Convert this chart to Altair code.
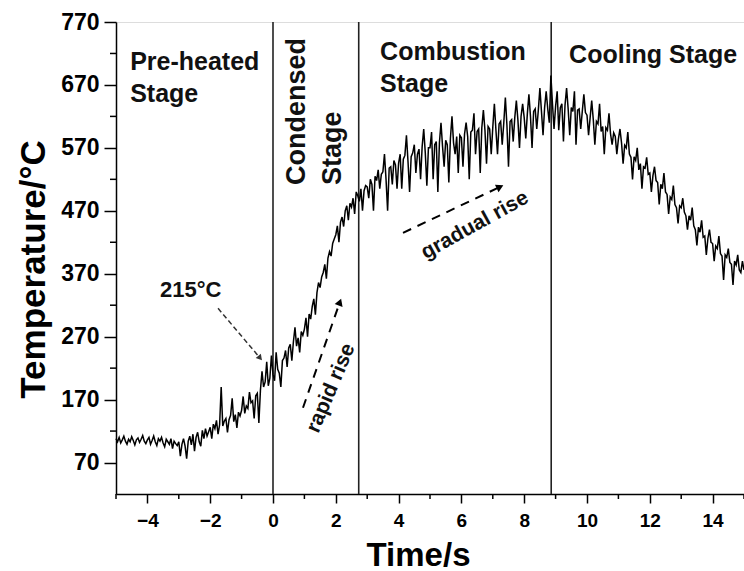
import altair as alt
import pandas as pd

FONT = "Liberation Sans"

# ---- temperature trace, 0.05 s sampling, one list per second (start time, values) ----
sec_starts = [-5, -4, -3, -2, -1, 0, 1, 2, 3, 4, 5, 6, 7, 8, 9, 10, 11, 12, 13, 14, 15]
sec_values = [
    [108, 103, 110, 101, 106, 112, 104, 99, 107, 103, 111, 105, 98, 106, 109, 102, 107, 113, 104, 100],
    [106, 110, 99, 105, 112, 103, 97, 108, 104, 110, 101, 95, 107, 103, 99, 108, 92, 104, 100, 97],
    [103, 80, 99, 108, 96, 76, 104, 112, 98, 115, 88, 110, 118, 103, 96, 121, 108, 124, 112, 119],
    [126, 108, 131, 124, 137, 115, 130, 190, 128, 136, 140, 118, 138, 145, 172, 135, 146, 125, 150, 144],
    [153, 175, 148, 160, 156, 182, 165, 168, 140, 176, 180, 133, 185, 215, 190, 198, 230, 192, 204, 240],
    [210, 200, 245, 218, 212, 190, 232, 236, 248, 222, 252, 258, 232, 262, 285, 255, 268, 245, 278, 272],
    [282, 300, 270, 306, 298, 318, 330, 305, 340, 356, 348, 365, 372, 385, 362, 395, 405, 398, 418, 425],
    [432, 446, 420, 452, 460, 445, 470, 478, 455, 482, 476, 490, 465, 500, 494, 485, 505, 470, 502, 510],
    [508, 490, 520, 512, 470, 525, 518, 535, 505, 528, 532, 560, 520, 470, 538, 540, 512, 550, 543, 505],
    [546, 560, 505, 552, 558, 590, 548, 500, 556, 562, 575, 530, 560, 568, 520, 572, 600, 562, 510, 570],
    [570, 595, 520, 575, 580, 500, 578, 610, 572, 540, 582, 575, 515, 585, 620, 578, 560, 588, 530, 590],
    [586, 540, 592, 610, 588, 520, 595, 598, 625, 560, 596, 600, 530, 602, 630, 598, 545, 604, 600, 560],
    [603, 640, 598, 560, 608, 612, 575, 610, 650, 606, 540, 612, 615, 580, 618, 645, 614, 570, 620, 640],
    [618, 585, 624, 655, 620, 570, 628, 632, 600, 630, 665, 628, 590, 634, 660, 632, 610, 685, 640, 600],
    [636, 660, 598, 634, 640, 580, 638, 665, 632, 590, 634, 628, 660, 575, 630, 632, 600, 628, 655, 626],
    [622, 590, 618, 645, 615, 575, 612, 608, 640, 596, 604, 560, 602, 598, 625, 592, 575, 594, 588, 560],
    [584, 600, 578, 545, 574, 570, 595, 560, 555, 520, 556, 550, 570, 535, 545, 505, 540, 538, 555, 528],
    [530, 500, 526, 540, 518, 515, 480, 512, 505, 530, 500, 496, 465, 492, 488, 510, 480, 475, 450, 478],
    [475, 490, 468, 462, 440, 462, 455, 475, 446, 440, 415, 444, 436, 455, 428, 430, 400, 426, 440, 420],
    [418, 390, 414, 410, 430, 402, 398, 360, 400, 396, 410, 388, 385, 352, 390, 384, 400, 376, 372, 390],
    [376],
]
t_step = 0.05

# stage boundaries (s)
boundaries = [0.0, 2.73, 8.86]

# stage labels
stage_text = ["Pre-heated", "Stage", "Combustion", "Stage", "Cooling Stage"]
stage_x = [-4.55, -4.55, 3.41, 3.41, 9.43]
stage_y = [694, 643, 710, 659, 705]

rot_text = ["Condensed", "Stage"]
rot_x = [1.02, 2.17]
rot_y = [511, 511]

# axes
x_major = [-4, -2, 0, 2, 4, 6, 8, 10, 12, 14]
x_minor = [-5, -3, -1, 1, 3, 5, 7, 9, 11, 13, 15]
y_major = [70, 170, 270, 370, 470, 570, 670, 770]
y_minor = [120, 220, 320, 420, 520, 620, 720]

W, H = 628, 472

times, temps = [], []
for s0, vals in zip(sec_starts, sec_values):
    for i, v in enumerate(vals):
        times.append(round(s0 + t_step * i, 3))
        temps.append(v)
df = pd.DataFrame({"t": times, "T": temps})

xs = alt.Scale(domain=[-5, 15], nice=False, zero=False)
ys = alt.Scale(domain=[20, 770], nice=False, zero=False)

xaxis = alt.Axis(
    values=x_major, format="d",
    labelOverlap=False, labelFlush=False, tickSize=9,
    labelFontSize=19, labelFont=FONT, labelFontWeight="bold", labelColor="black",
    labelPadding=8, tickColor="black", tickWidth=1.5, domainColor="black", domainWidth=1.5,
    grid=False, title="Time/s", titleFont=FONT, titleFontSize=33, titleFontWeight="bold",
    titleColor="black", titleX=302, titleY=71, titleBaseline="alphabetic", titleAlign="center",
)
yaxis = alt.Axis(
    values=y_major, format="d",
    labelOverlap=False, labelFlush=False, tickSize=12,
    labelFontSize=23, labelFont=FONT, labelFontWeight="bold", labelColor="black",
    labelPadding=5, tickColor="black", tickWidth=1.5, domainColor="black", domainWidth=1.5,
    grid=False, title="Temperature/°C", titleFont=FONT, titleFontSize=35, titleFontWeight="bold",
    titleColor="black", titleX=-72, titleY=247, titleAngle=270, titleBaseline="alphabetic",
    titleAlign="center",
)

line = alt.Chart(df).mark_line(color="black", strokeWidth=1.5).encode(
    x=alt.X("t:Q", scale=xs, axis=xaxis),
    y=alt.Y("T:Q", scale=ys, axis=yaxis),
)

# minor ticks, positioned by the scales just outside the axis lines
xminor = alt.Chart(pd.DataFrame({"m": x_minor})).mark_rule(color="black", strokeWidth=1.5).encode(
    x=alt.X("m:Q", scale=xs), y=alt.value(H), y2=alt.value(H + 5))
yminor = alt.Chart(pd.DataFrame({"m": y_minor})).mark_rule(color="black", strokeWidth=1.5).encode(
    y=alt.Y("m:Q", scale=ys), x=alt.value(0), x2=alt.value(-6))

rules = alt.Chart(pd.DataFrame({"b": boundaries})).mark_rule(
    color="#222", strokeWidth=1.6
).encode(x=alt.X("b:Q", scale=xs))

stage_df = pd.DataFrame({"txt": stage_text, "x": stage_x, "y": stage_y})
stages = alt.Chart(stage_df).mark_text(
    font=FONT, fontSize=25, fontWeight="bold", align="left", baseline="alphabetic", color="#111"
).encode(x=alt.X("x:Q", scale=xs), y=alt.Y("y:Q", scale=ys), text="txt:N")

rot_df = pd.DataFrame({"txt": rot_text, "x": rot_x, "y": rot_y})
rot = alt.Chart(rot_df).mark_text(
    font=FONT, fontSize=27, fontWeight="bold", align="left", baseline="alphabetic",
    angle=270, color="#111"
).encode(x=alt.X("x:Q", scale=xs), y=alt.Y("y:Q", scale=ys), text="txt:N")

# annotations
a215_x = [-1.75, -0.41]
a215_y = [315, 236]
rapid_x = [0.955, 2.13]
rapid_y = [157, 325]
grad_x = [4.14, 7.23]
grad_y = [435, 508]


def arrow(xv, yv, color, dash, width, head_angle, head_size):
    d = pd.DataFrame({"x": xv, "y": yv, "o": [0, 1]})
    shaft = alt.Chart(d).mark_line(color=color, strokeDash=dash, strokeWidth=width).encode(
        x=alt.X("x:Q", scale=xs), y=alt.Y("y:Q", scale=ys), order="o:O")
    head = alt.Chart(d.iloc[[1]]).mark_point(
        shape="triangle-up", filled=True, color=color, size=head_size, angle=head_angle, opacity=1
    ).encode(x=alt.X("x:Q", scale=xs), y=alt.Y("y:Q", scale=ys))
    return shaft + head


arr215 = arrow(a215_x, a215_y, "#333", [5, 3], 1.5, 140, 45)
arr_rapid = arrow(rapid_x, rapid_y, "black", [9, 7], 2, 20, 70)
arr_grad = arrow(grad_x, grad_y, "black", [9, 7], 2, 65, 70)

t215 = alt.Chart(pd.DataFrame({"txt": ["215°C"], "x": [-3.6], "y": [333]})).mark_text(
    font=FONT, fontSize=22, fontWeight="bold", align="left", baseline="alphabetic", color="#111"
).encode(x=alt.X("x:Q", scale=xs), y=alt.Y("y:Q", scale=ys), text="txt:N")

t_rapid = alt.Chart(pd.DataFrame({"txt": ["rapid rise"], "x": [1.85], "y": [188]})).mark_text(
    font=FONT, fontSize=21, fontWeight="bold", align="center", baseline="middle", angle=293,
    color="#111"
).encode(x=alt.X("x:Q", scale=xs), y=alt.Y("y:Q", scale=ys), text="txt:N")

t_grad = alt.Chart(pd.DataFrame({"txt": ["gradual rise"], "x": [6.43], "y": [447]})).mark_text(
    font=FONT, fontSize=21, fontWeight="bold", align="center", baseline="middle", angle=331,
    color="#111"
).encode(x=alt.X("x:Q", scale=xs), y=alt.Y("y:Q", scale=ys), text="txt:N")

chart = alt.layer(
    rules, line, xminor, yminor, stages, rot, arr215, arr_rapid, arr_grad, t215, t_rapid, t_grad
).properties(
    width=W, height=H,
    padding={"left": 116, "top": 22, "right": 0, "bottom": 77},
    autosize="none",
).configure_view(stroke="#777", strokeWidth=1.2).configure(background="white")

chart.save("out.html", embed_options={"renderer": "svg", "actions": False})
